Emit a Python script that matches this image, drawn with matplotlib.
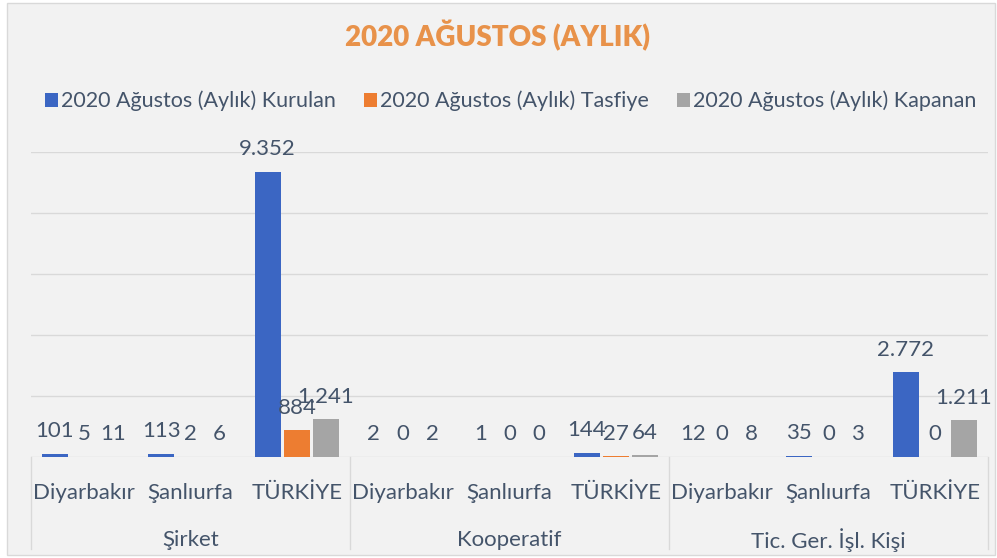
import numpy as np
import matplotlib.pyplot as plt
from matplotlib.patches import Rectangle

groups = ["Şirket", "Kooperatif", "Tic. Ger. İşl. Kişi"]
places = ["Diyarbakır", "Şanlıurfa", "TÜRKİYE"]
series = ["2020 Ağustos (Aylık) Kurulan", "2020 Ağustos (Aylık) Tasfiye",
          "2020 Ağustos (Aylık) Kapanan"]
kurulan = [101, 113, 9352, 2, 1, 144, 12, 35, 2772]
tasfiye = [5, 2, 884, 0, 0, 27, 0, 0, 0]
kapanan = [11, 6, 1241, 2, 0, 64, 8, 3, 1211]
colors = ["#3B66C3", "#ED7D31", "#A5A5A5"]

txt = "#44546A"
plt.rcParams['font.family'] = ['Lato', 'DejaVu Sans']

W, H = 997, 558
fig = plt.figure(figsize=(W / 100, H / 100), dpi=100, facecolor="white")
fig.patches.append(Rectangle((7 / W, 3 / H), 988 / W, 552 / H, transform=fig.transFigure,
                             facecolor="#F2F2F2", edgecolor="#D9D9D9", lw=1, zorder=-5))

x0, x1, yb, yt = 31, 988, 457, 152
ax = fig.add_axes([x0 / W, (H - yb) / H, (x1 - x0) / W, (yb - yt) / H])
ax.set_facecolor("none")

n = len(kurulan)
x = np.arange(n)
off = 0.275
bw = 0.245
for i, vals in enumerate([kurulan, tasfiye, kapanan]):
    bars = ax.bar(x + (i - 1) * off, vals, bw, color=colors[i], label=series[i], zorder=3)
    for b, v in zip(bars, vals):
        lab = f"{v:,}".replace(",", ".")
        ax.annotate(lab, (b.get_x() + b.get_width() / 2, v), xytext=(0, 9),
                    textcoords="offset points", ha="center", va="bottom",
                    fontsize=16, color=txt)

ax.set_xlim(-0.5, n - 0.5)
ax.set_ylim(0, 10000)
ax.set_yticks(np.arange(0, 10001, 2000))
ax.grid(axis="y", color="#D9D9D9", lw=1, zorder=0)
ax.tick_params(left=False, bottom=False, labelleft=False, labelbottom=False)
for s in ax.spines.values():
    s.set_visible(False)

tr = ax.get_xaxis_transform()
ph = yb - yt
for j in range(n):
    ax.text(j, -36 / ph, places[j % 3], transform=tr, ha="center", va="center",
            fontsize=16, color=txt)
for g, name in enumerate(groups):
    ax.text(g * 3 + 1, -83 / ph, name, transform=tr, ha="center", va="center",
            fontsize=16, color=txt)
for k in range(4):
    ax.plot([k * 3 - 0.5] * 2, [0, -92 / ph], transform=tr, color="#D9D9D9",
            lw=1, clip_on=False)

fig.text(497 / W, 1 - 36 / H, "2020 AĞUSTOS (AYLIK)", ha="center", va="center",
         fontsize=20, fontweight="heavy", color="#E8924A")
fig.legend(loc="center", bbox_to_anchor=(511 / W, 1 - 101 / H), ncol=3, frameon=False,
           fontsize=15.5, labelcolor=txt, handlelength=0.6, handleheight=0.6,
           handletextpad=0.15, columnspacing=1.3)

fig.savefig("out.png", dpi=100, facecolor="white")
